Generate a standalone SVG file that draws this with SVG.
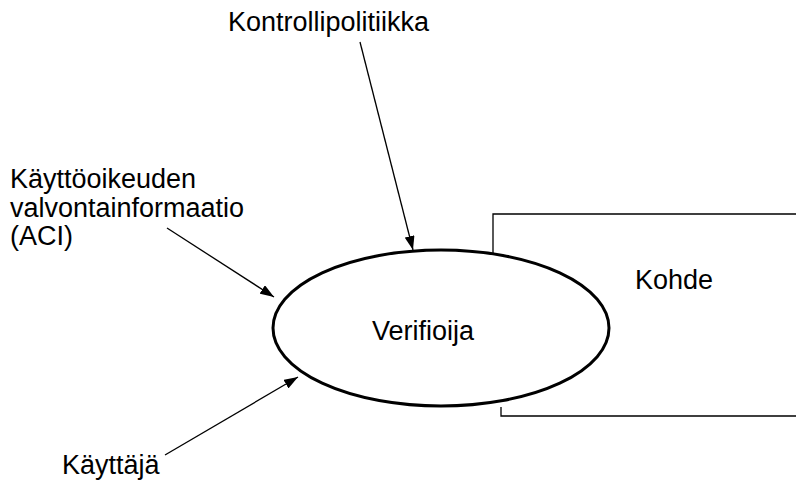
<svg xmlns="http://www.w3.org/2000/svg" width="796" height="480" viewBox="0 0 796 480">
  <style>
    .lbl { font-family: "Liberation Sans", Arial, sans-serif; font-size: 27px; fill: #000; }
    .edge { stroke: #000; stroke-width: 1.3; fill: none; }
    .frame { stroke: #000; stroke-width: 1.3; fill: none; }
  </style>
  <defs>
    <marker id="arrow" viewBox="0 0 14 10" refX="14" refY="5" markerWidth="14" markerHeight="10" markerUnits="userSpaceOnUse" orient="auto">
      <path d="M0,0 L14,5 L0,10 Z" fill="#000"/>
    </marker>
  </defs>
  <rect width="796" height="480" fill="#fff"/>

  <!-- Kohde: open-ended frame behind the verifier -->
  <g id="kohde">
    <path class="frame" d="M493,253 V214 H796"/>
    <path class="frame" d="M501,407 V416 H796"/>
    <text class="lbl" x="635" y="289">Kohde</text>
  </g>

  <!-- Verifioija -->
  <g id="verifioija">
    <ellipse cx="441" cy="328" rx="168" ry="78" fill="none" stroke="#000" stroke-width="3"/>
    <text class="lbl" x="372" y="340">Verifioija</text>
  </g>

  <g id="kontrollipolitiikka">
    <text class="lbl" x="228" y="31">Kontrollipolitiikka</text>
  </g>

  <g id="aci">
    <text class="lbl" x="10" y="188">Käyttöoikeuden</text>
    <text class="lbl" x="10" y="217">valvontainformaatio</text>
    <text class="lbl" x="10" y="245">(ACI)</text>
  </g>

  <g id="kayttaja">
    <text class="lbl" x="62" y="474">Käyttäjä</text>
  </g>

  <g id="connectors">
    <line class="edge" x1="360" y1="42" x2="413" y2="250" marker-end="url(#arrow)"/>
    <line class="edge" x1="167" y1="228" x2="274" y2="297" marker-end="url(#arrow)"/>
    <line class="edge" x1="165" y1="455" x2="298" y2="377" marker-end="url(#arrow)"/>
  </g>
</svg>
